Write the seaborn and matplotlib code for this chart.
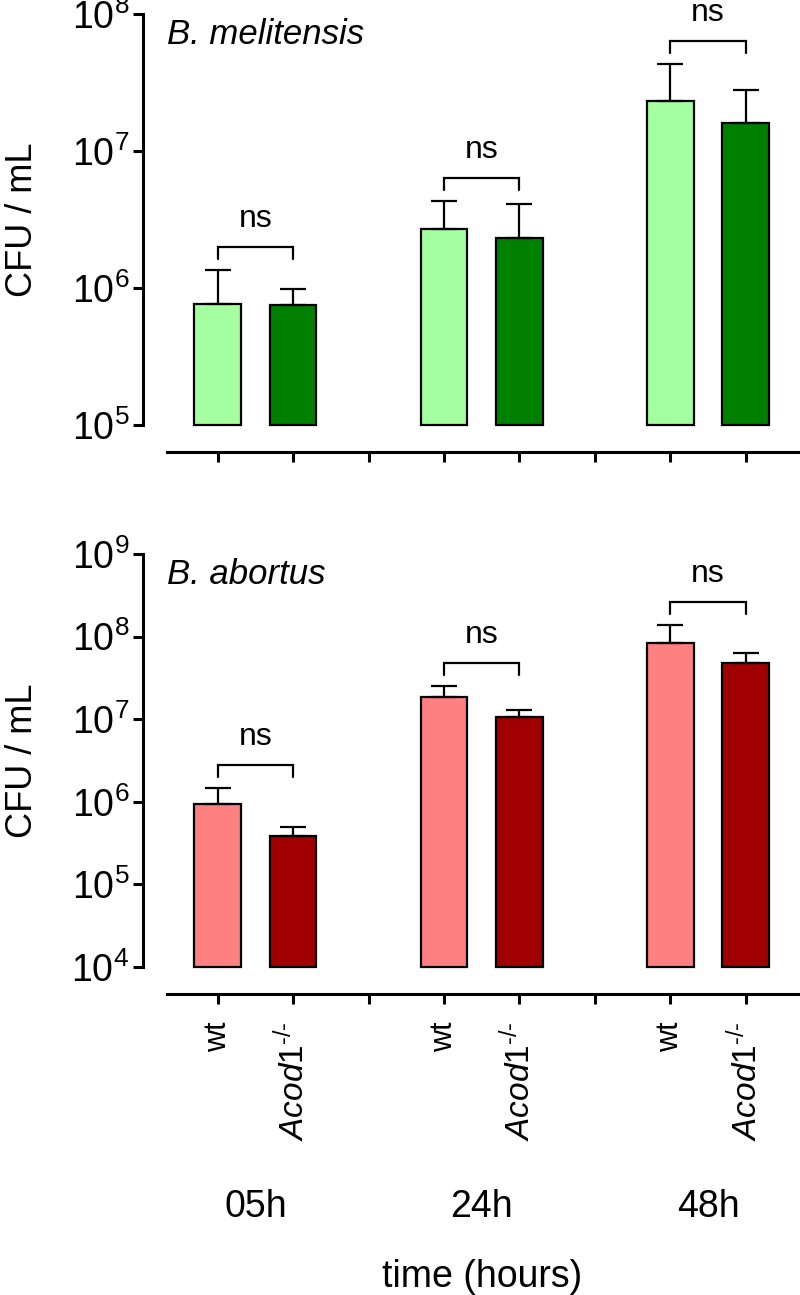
import numpy as np
import pandas as pd
import matplotlib
matplotlib.use("Agg")
import matplotlib.pyplot as plt
from matplotlib.ticker import NullLocator
import seaborn as sns

# values (mean and upper SD)
timepoints = ["05h", "24h", "48h"]
genotypes = ["wt", "Acod1"]
geno_labels = ["wt", r"$\mathit{Acod1}^{\mathregular{‐/‐}}$"]

mel_mean = [7.7e5, 7.5e5, 2.7e6, 2.3e6, 2.3e7, 1.6e7]
mel_sd = [5.8e5, 2.3e5, 1.6e6, 1.8e6, 2.0e7, 1.2e7]
abo_mean = [9.5e5, 3.9e5, 1.87e7, 1.05e7, 8.3e7, 4.8e7]
abo_sd = [5.0e5, 1.1e5, 6.3e6, 2.5e6, 5.7e7, 1.6e7]

mel_colors = ["#A3FFA0", "#008000"]
abo_colors = ["#FF8080", "#A00000"]

sns.set_style("ticks")
plt.rcParams["font.family"] = ["Liberation Sans", "DejaVu Sans"]
plt.rcParams["mathtext.fontset"] = "custom"
plt.rcParams["mathtext.rm"] = "Liberation Sans"
plt.rcParams["mathtext.it"] = "Liberation Sans:italic"
plt.rcParams["text.color"] = "black"
plt.rcParams["axes.labelcolor"] = "black"
plt.rcParams["axes.edgecolor"] = "black"
narrow = ["Liberation Sans Narrow", "Liberation Sans", "DejaVu Sans"]


def make_df(mean, sd):
    rows = []
    for i, t in enumerate(timepoints):
        for j, g in enumerate(genotypes):
            k = i * 2 + j
            rows.append({"time": t, "genotype": g, "pos": i * 3 + j, "cfu": mean[k], "sd": sd[k]})
    return pd.DataFrame(rows)


def panel(ax, df, colors, lo, hi, species, ax_px):
    ax.set_yscale("log")
    sns.barplot(data=df, x="pos", y="cfu", hue="genotype", palette=colors, native_scale=True,
                dodge=False, width=0.62, saturation=1, edgecolor="black", linewidth=1.6,
                errorbar=None, legend=False, ax=ax)
    # bars start at the bottom of the axis, like in prism
    for p in ax.patches:
        top = p.get_y() + p.get_height()
        p.set_y(10.0**lo)
        p.set_height(top - 10.0**lo)
        p.set_clip_on(False)
    ax.errorbar(df["pos"], df["cfu"], yerr=[np.zeros(len(df)), df["sd"]], fmt="none",
                ecolor="black", elinewidth=1.6, capsize=9.5, capthick=1.6, zorder=3)

    ax.set_ylim(10.0**lo, 10.0**hi)
    ax.set_xlim(-0.99, 7.72)
    ax.set_yticks([10.0**e for e in range(lo, hi + 1)])
    ax.set_yticklabels([r"$\mathregular{10^{%d}}$" % e for e in range(lo, hi + 1)], fontsize=27)
    ax.yaxis.set_minor_locator(NullLocator())
    ax.set_xticks(range(8))
    ax.set_xlabel("")
    ax.set_ylabel("CFU / mL", fontsize=26, va="center")
    ax.yaxis.set_label_coords(-0.184, 0.5)

    for s in ["top", "right"]:
        ax.spines[s].set_visible(False)
    ax.spines["left"].set_linewidth(2.2)
    ax.spines["bottom"].set_linewidth(2.2)
    ax.spines["bottom"].set_position(("outward", 19.5))
    ax.spines["bottom"].set_bounds(-0.676, 7.72)
    ax.tick_params(axis="both", direction="out", length=7, width=2.2, colors="black")
    ax.tick_params(axis="y", pad=3)

    ax.text(0.0365, 0.95, species, transform=ax.transAxes, fontsize=25, style="italic",
            ha="left", va="center")

    # significance brackets above each pair
    tr = ax.get_xaxis_transform()
    for i in range(len(timepoints)):
        sub = df.iloc[i * 2:i * 2 + 2]
        top = np.log10((sub["cfu"] + sub["sd"]).max())
        yb = (top - lo) / (hi - lo) + 23 / ax_px
        tip = 12 / ax_px
        x0, x1 = sub["pos"].iloc[0], sub["pos"].iloc[1]
        ax.plot([x0, x0, x1, x1], [yb - tip, yb, yb, yb - tip], color="black", lw=1.6,
                transform=tr, clip_on=False, solid_joinstyle="miter")
        ax.text((x0 + x1) / 2, yb + 20 / ax_px, "ns", transform=tr, ha="center",
                va="baseline", fontsize=23)


fig = plt.figure(figsize=(8, 12.95), dpi=100)
ax1 = fig.add_axes([143 / 800, 1 - 425 / 1295, 657 / 800, 411 / 1295])
ax2 = fig.add_axes([143 / 800, 1 - 967 / 1295, 657 / 800, 413 / 1295])

panel(ax1, make_df(mel_mean, mel_sd), mel_colors, 5, 8, "B. melitensis", 411)
panel(ax2, make_df(abo_mean, abo_sd), abo_colors, 4, 9, "B. abortus", 413)

ax1.set_xticklabels([])
ax2.set_xticklabels([geno_labels[0], geno_labels[1], "", geno_labels[0], geno_labels[1], "",
                     geno_labels[0], geno_labels[1]], rotation=90, fontsize=22)
for lab in ax2.get_xticklabels():
    if "Acod" in lab.get_text():
        lab.set_fontsize(24)
ax2.tick_params(axis="x", pad=13)

for i, t in enumerate(timepoints):
    ax2.text(i * 3 + 0.5, -0.581, t, transform=ax2.get_xaxis_transform(), ha="center",
             va="center", fontsize=27, family=narrow)
ax2.text(3.5, -0.751, "time (hours)", transform=ax2.get_xaxis_transform(), ha="center",
         va="center", fontsize=27, family=narrow)

fig.savefig("out.png", dpi=100)
